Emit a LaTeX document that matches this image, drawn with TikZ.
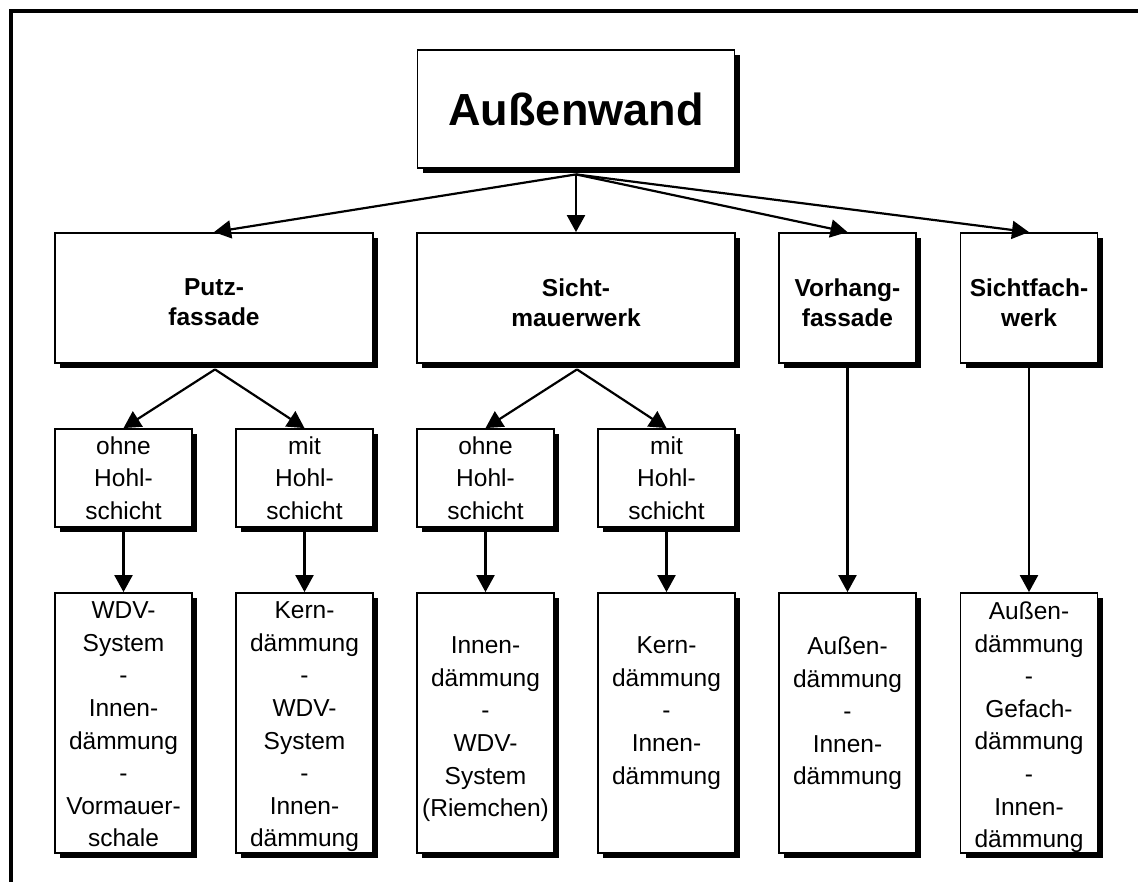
\documentclass[tikz,border=0pt]{standalone}
\usepackage{fontspec}
\setmainfont{Liberation Sans}
\usetikzlibrary{arrows.meta,shadows}
\begin{document}
\begin{tikzpicture}[x=1pt,y=-1pt,
  box/.style={draw, line width=1.8pt, fill=white, inner sep=0pt,
    drop shadow={shadow xshift=5pt, shadow yshift=-5pt, fill=black, opacity=1}},
  topbox/.style={box, minimum width=317pt, minimum height=118pt,
    font=\bfseries\fontsize{45}{54}\selectfont},
  bigbox/.style={box, minimum width=318pt, minimum height=130pt},
  colbox/.style={box, minimum width=137pt, minimum height=130pt},
  midbox/.style={box, minimum width=137pt, minimum height=98pt,
    align=center, font=\fontsize{24.5}{32.6}\selectfont},
  lowbox/.style={box, minimum width=137pt, minimum height=260pt},
  headtxt/.style={anchor=north, inner sep=0pt, align=center,
    font=\bfseries\fontsize{24.5}{30}\selectfont},
  lowtxt/.style={anchor=north, inner sep=0pt, align=center,
    font=\fontsize{24.5}{32.6}\selectfont},
  conn/.style={line width=2.2pt, -{Triangle[length=17pt,width=18pt]}},
  frameline/.style={line width=4pt, line join=miter}
]
\useasboundingbox (0,0) rectangle (1138,881);
\draw[frameline] (11,890) -- (11,11) -- (1150,11);

% level 0
\node[topbox] (A) at (576,109) {Außenwand};

% level 1
\node[bigbox] (P) at (214,298) {};
\node[bigbox] (S) at (576,298) {};
\node[colbox] (V) at (847.5,298) {};
\node[colbox] (F) at (1029,298) {};
\node[headtxt] (Pt) at ([yshift=-46pt]P.north) {Putz-\\fassade};
\node[headtxt] (St) at ([yshift=-46pt]S.north) {Sicht-\\mauerwerk};
\node[headtxt] (Vt) at ([yshift=-46pt]V.north) {Vorhang-\\fassade};
\node[headtxt] (Ft) at ([yshift=-46pt]F.north) {Sichtfach-\\werk};

% level 2
\node[midbox] (P1) at (123.5,478) {ohne\\Hohl-\\schicht};
\node[midbox] (P2) at (304.5,478) {mit\\Hohl-\\schicht};
\node[midbox] (S1) at (485.5,478) {ohne\\Hohl-\\schicht};
\node[midbox] (S2) at (666.5,478) {mit\\Hohl-\\schicht};

% level 3
\node[lowbox] (P1b) at (123.5,723) {};
\node[lowbox] (P2b) at (304.5,723) {};
\node[lowbox] (S1b) at (485.5,723) {};
\node[lowbox] (S2b) at (666.5,723) {};
\node[lowbox] (Vb) at (847.5,723) {};
\node[lowbox] (Fb) at (1029,723) {};
\node[lowtxt] (P1t) at ([yshift=-9.5pt]P1b.north) {WDV-\\System\\-\\Innen-\\dämmung\\-\\Vormauer-\\schale};
\node[lowtxt] (P2t) at ([yshift=-9.5pt]P2b.north) {Kern-\\dämmung\\-\\WDV-\\System\\-\\Innen-\\dämmung};
\node[lowtxt] (S1t) at ([yshift=-44.5pt]S1b.north) {Innen-\\dämmung\\-\\WDV-\\System\\(Riemchen)};
\node[lowtxt] (S2t) at ([yshift=-44.5pt]S2b.north) {Kern-\\dämmung\\-\\Innen-\\dämmung};
\node[lowtxt] (Vt3) at ([yshift=-44.5pt]Vb.north) {Außen-\\dämmung\\-\\Innen-\\dämmung};
\node[lowtxt] (Ft3) at ([yshift=-9.5pt]Fb.north) {Außen-\\dämmung\\-\\Gefach-\\dämmung\\-\\Innen-\\dämmung};

% fan-out points below the shadows
\coordinate (Ao) at ([yshift=-5.5pt]A.south);
\coordinate (Po) at ([xshift=1pt,yshift=-5.5pt]P.south);
\coordinate (So) at ([xshift=1pt,yshift=-5.5pt]S.south);

% connectors
\draw[conn] (Ao) -- (P.north);
\draw[conn] (Ao) -- (S.north);
\draw[conn] (Ao) -- (V.north);
\draw[conn] (Ao) -- (F.north);
\draw[conn] (Po) -- (P1.north);
\draw[conn] (Po) -- (P2.north);
\draw[conn] (So) -- (S1.north);
\draw[conn] (So) -- (S2.north);
\draw[conn] (P1.south) -- (P1b.north);
\draw[conn] (P2.south) -- (P2b.north);
\draw[conn] (S1.south) -- (S1b.north);
\draw[conn] (S2.south) -- (S2b.north);
\draw[conn] (V.south) -- (Vb.north);
\draw[conn] (F.south) -- (Fb.north);
\end{tikzpicture}
\end{document}
